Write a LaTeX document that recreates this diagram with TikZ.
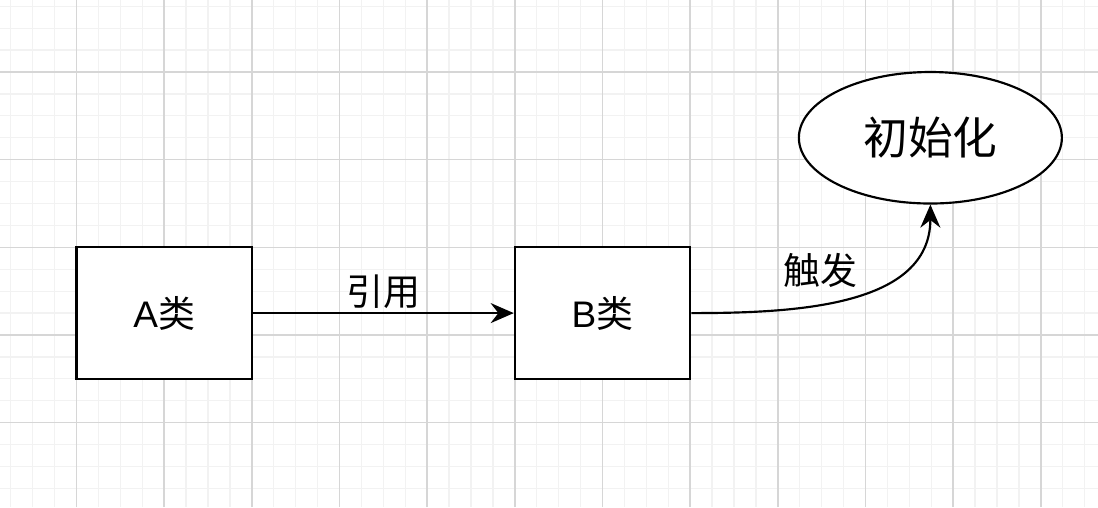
\documentclass[tikz,border=0pt]{standalone}
\usepackage{fontspec}
\setmainfont{Liberation Sans}
\newfontfamily\cjk{Noto Sans CJK SC}
\usetikzlibrary{arrows.meta,shapes.geometric}

\begin{document}
\begin{tikzpicture}[x=1cm, y=1cm, >={Stealth[length=7.5pt, width=6.5pt, inset=2.5pt]}]

  % Canvas and background grid (minor and major lines)
  \useasboundingbox (-0.8726,-4.962) rectangle (11.652,0.8213);
  \fill[white] (-0.8726,-4.962) rectangle (11.652,0.8213);
  \draw[black!5, line width=0.4pt, step=0.25] (-0.8726,-4.962) grid (11.652,0.8213);
  \draw[black!16, line width=0.5pt, step=1] (-0.8726,-4.962) grid (11.652,0.8213);

  % Class boxes
  \node[draw, line width=0.7pt, fill=white, minimum width=2cm, minimum height=1.5cm, font=\fontsize{12}{14}\selectfont] (classA) at (1,-2.75) {A\cjk 类};
  \node[draw, line width=0.7pt, fill=white, minimum width=2cm, minimum height=1.5cm, font=\fontsize{12}{14}\selectfont] (classB) at (6,-2.75) {B\cjk 类};

  % Initialisation step
  \node[draw, ellipse, line width=0.7pt, fill=white, minimum width=3cm, minimum height=1.5cm, font=\cjk\fontsize{14.5}{17}\selectfont] (init) at (9.74,-0.75) {初始化};

  % Reference from A to B
  \draw[->, line width=0.7pt] (classA) -- node[midway, yshift=0.24cm, font=\cjk\fontsize{12}{14}\selectfont] (refLabel) {引用} (classB);

  % B triggers the initialisation
  \draw[->, line width=0.7pt] (classB.east) to[out=0, in=-90] (init.south);
  \node[font=\cjk\fontsize{12}{14}\selectfont] (trigLabel) at (8.49,-2.26) {触发};

\end{tikzpicture}
\end{document}
